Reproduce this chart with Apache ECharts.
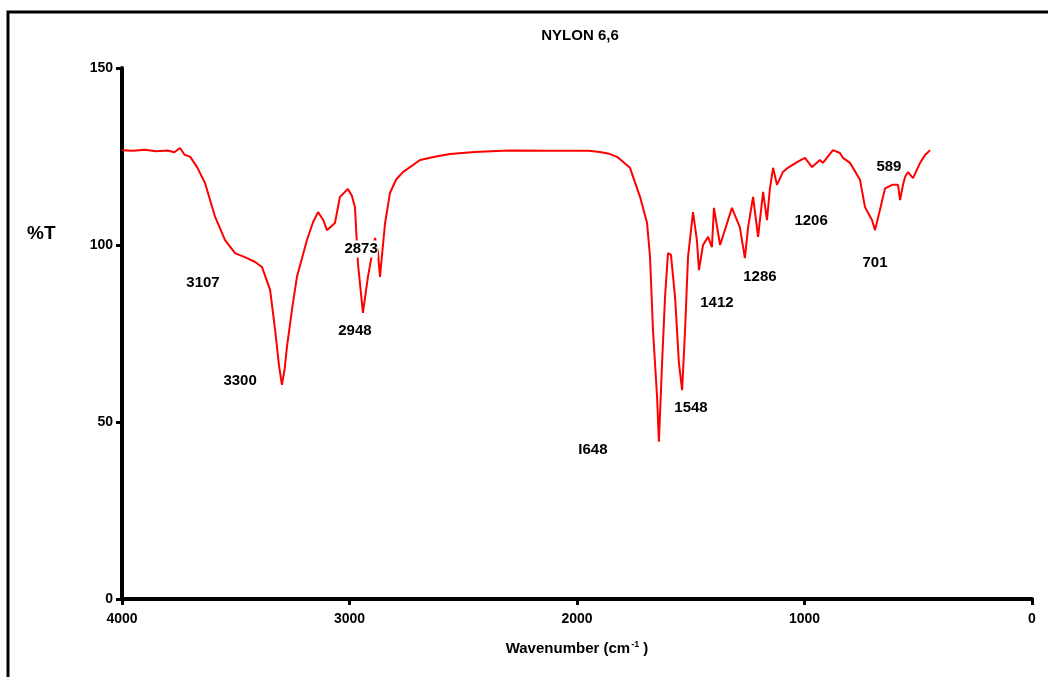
<!DOCTYPE html>
<html>
<head>
<meta charset="utf-8">
<script src="https://cdn.jsdelivr.net/npm/echarts@6/dist/echarts.min.js"></script>
<style>
html,body{margin:0;padding:0;background:#fff;}
#chart{width:1048px;height:677px;}
</style>
</head>
<body>
<div id="chart"></div>
<script>
// Data (wavenumber cm-1, %T)
const wavenumbers = [4000,3950,3900,3850,3800,3770,3745,3725,3700,3670,3635,3591,3547,3503,3450,3415,3385,3349,3327,3310,3297,3285,3275,3250,3231,3187,3160,3138,3115,3099,3064,3042,3007,2990,2976,2963,2941,2919,2888,2875,2866,2844,2822,2795,2765,2690,2620,2558,2450,2300,2119,1950,1899,1860,1824,1767,1723,1692,1679,1666,1648,1640,1626,1613,1600,1587,1569,1552,1538,1525,1512,1490,1473,1464,1446,1424,1407,1398,1371,1319,1284,1262,1248,1226,1204,1182,1165,1152,1138,1121,1095,1073,1033,998,967,932,919,875,844,831,800,756,734,703,690,668,646,615,589,580,567,558,545,523,492,470,448];
const transmittance = [126.8,126.6,126.9,126.5,126.7,126.2,127.4,125.5,124.9,122.0,117.5,108.0,101.4,97.7,96.3,95.2,93.8,87.3,76.0,66.0,60.5,65.0,71.2,83.0,91.0,101.4,106.5,109.3,107.0,104.2,106.2,113.6,115.8,114.0,110.7,94.9,80.8,91.0,102.0,98.0,91.0,106.0,114.7,118.5,120.6,124.0,125.0,125.7,126.3,126.7,126.6,126.6,126.3,125.8,124.9,121.8,113.6,106.2,96.6,76.0,57.0,44.4,66.7,85.3,97.7,97.2,85.3,66.7,59.0,76.0,96.6,109.3,101.4,92.9,100.0,102.3,99.4,110.5,100.0,110.5,105.0,96.3,105.0,113.6,102.3,115.0,107.0,116.0,121.8,117.0,120.6,121.8,123.4,124.6,122.0,124.0,123.2,126.8,126.0,124.6,123.2,118.4,110.7,107.0,104.2,110.0,116.0,117.0,117.0,112.7,117.0,119.2,120.6,118.9,123.2,125.4,126.8];

// Peak annotations (text, label position in data units)
const peakLabels = ['3107','3300','2873','2948','I648','1548','1412','1286','1206','701','589'];
const peakLabelX = [3644,3481,2949,2976,1930,1499,1385,1196,971,690,629];
const peakLabelY = [89.3,61.6,98.9,75.7,42.1,54.0,83.6,91.0,106.8,94.9,122.0];

const xTicks = [0,1000,2000,3000,4000];
const yTicks = [0,50,100,150];

const lineData = wavenumbers.map((w,i)=>[w,transmittance[i]]);
const labelData = peakLabels.map((t,i)=>{
  const d = {value:[peakLabelX[i],peakLabelY[i]], name:t};
  if (t === '2873') d.label = {backgroundColor:'#fff', padding:[1,0]};
  return d;
});

const chart = echarts.init(document.getElementById('chart'));
const FONT = "'Liberation Sans', Arial, sans-serif";
chart.setOption({
  animation:false,
  backgroundColor:'#fff',
  title:[
    {text:'NYLON 6,6', left:575, top:23, textAlign:'center',
     textStyle:{fontFamily:"'Liberation Sans Narrow','Liberation Sans',Arial,sans-serif", fontWeight:'bold', fontSize:15, color:'#000'}},
    {text:'%T', left:22, top:219,
     textStyle:{fontFamily:FONT, fontWeight:'bold', fontSize:19, color:'#000'}}
  ],
  graphic:[
    {type:'rect', shape:{x:8, y:12, width:1200, height:800}, style:{fill:'none', stroke:'#000', lineWidth:3}, silent:true, z:-1}
  ],
  grid:{left:122, right:16, top:68, bottom:78, containLabel:false},
  xAxis:{
    type:'value', inverse:true, min:0, max:4000, interval:1000,
    axisLine:{onZero:false, lineStyle:{color:'#000', width:4}},
    axisTick:{show:true, length:6, lineStyle:{color:'#000', width:3}},
    splitLine:{show:false},
    axisLabel:{color:'#000', fontFamily:FONT, fontWeight:'bold', fontSize:14, margin:13,
      formatter:v=> xTicks.includes(v)? String(v):''},
    name:'{a|Wavenumber (cm}{s|-1}{a| )}', nameLocation:'middle', nameGap:41,
    nameTextStyle:{rich:{
      a:{fontFamily:FONT, fontWeight:'bold', fontSize:15, color:'#000', letterSpacing:-1},
      s:{fontFamily:FONT, fontWeight:'bold', fontSize:9, color:'#000', padding:[0,0,9,1]}
    }}
  },
  yAxis:{
    type:'value', min:0, max:150, interval:50, position:'left',
    axisLine:{show:true, onZero:false, lineStyle:{color:'#000', width:4}},
    axisTick:{show:true, length:6, lineStyle:{color:'#000', width:3}},
    splitLine:{show:false},
    axisLabel:{color:'#000', fontFamily:FONT, fontWeight:'bold', fontSize:14, margin:9,
      formatter:v=> yTicks.includes(v)? String(v):''}
  },
  series:[
    {type:'line', data:lineData, showSymbol:false, symbol:'none',
     lineStyle:{color:'#ff0000', width:2}, z:2},
    {type:'scatter', data:labelData, symbolSize:0, z:5,
     itemStyle:{opacity:1},
     label:{show:true, position:'inside', formatter:p=>p.name, color:'#000', opacity:1,
       fontFamily:FONT, fontWeight:'bold', fontSize:15, textBorderWidth:0}
    }
  ]
});
</script>
</body>
</html>
